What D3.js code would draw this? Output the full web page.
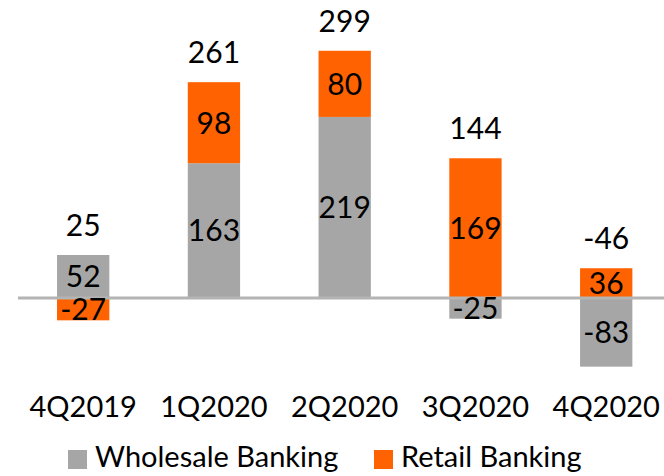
<!DOCTYPE html>
<html>
<head>
<meta charset="utf-8">
<script src="https://cdn.jsdelivr.net/npm/d3@7"></script>
<style>
    body { margin: 0; background: #fff; }
    svg { display: block; }
    text { font-family: "Lato", "Open Sans", sans-serif; fill: #000; }
</style>
</head>
<body>
<div id="chart"></div>
<script>
    // quarterly figures
    var categories = ["4Q2019", "1Q2020", "2Q2020", "3Q2020", "4Q2020"];
    var wholesaleBanking = [52, 163, 219, -25, -83];
    var retailBanking = [-27, 98, 80, 169, 36];
    var totals = [25, 261, 299, 144, -46];
    var seriesNames = ["Wholesale Banking", "Retail Banking"];
    var seriesColors = ["#a6a6a6", "#ff6200"];

    var width = 664, height = 476;
    var fontSize = 29;
    var valueFontSize = 30;

    var rows = categories.map(function(c, i) {
        return { cat: c, wholesale: wholesaleBanking[i], retail: retailBanking[i], total: totals[i] };
    });

    var svg = d3.select("#chart")
        .append("svg")
        .attr("width", width)
        .attr("height", height);

    var x = d3.scaleBand()
        .domain(categories)
        .range([17.8, 671.6])
        .paddingInner(0.6)
        .paddingOuter(0.3);

    var y = d3.scaleLinear()
        .domain([-100, 320])
        .range([380.7, 33.4]);

    var stacked = d3.stack()
        .keys(["wholesale", "retail"])
        .offset(d3.stackOffsetDiverging)(rows);

    var layers = svg.append("g")
        .selectAll("g")
        .data(stacked)
        .enter()
        .append("g")
        .attr("fill", function(d, i) { return seriesColors[i]; });

    layers.selectAll("rect")
        .data(function(d) { return d; })
        .enter()
        .append("rect")
        .attr("x", function(d) { return x(d.data.cat); })
        .attr("width", x.bandwidth())
        .attr("y", function(d) { return y(Math.max(d[0], d[1])); })
        .attr("height", function(d) { return Math.abs(y(d[0]) - y(d[1])); });

    // zero line sits over the bars
    svg.append("line")
        .attr("x1", 18)
        .attr("x2", width)
        .attr("y1", y(0))
        .attr("y2", y(0))
        .attr("stroke", "#b4b4b4")
        .attr("stroke-width", 3);

    // segment labels, centred in each piece
    var labels = svg.append("g");
    stacked.forEach(function(layer) {
        labels.append("g")
            .selectAll("text")
            .data(layer)
            .enter()
            .append("text")
            .attr("x", function(d) { return x(d.data.cat) + x.bandwidth() / 2; })
            .attr("y", function(d) { return (y(d[0]) + y(d[1])) / 2; })
            .attr("dy", "0.36em")
            .attr("text-anchor", "middle")
            .style("font-size", valueFontSize + "px")
            .text(function(d) { return d.data[layer.key]; });
    });

    // totals above each stack
    svg.append("g")
        .selectAll("text")
        .data(rows)
        .enter()
        .append("text")
        .attr("x", function(d) { return x(d.cat) + x.bandwidth() / 2; })
        .attr("y", function(d) { return y(Math.max(0, d.wholesale) + Math.max(0, d.retail)) - 30; })
        .attr("dy", "0.36em")
        .attr("text-anchor", "middle")
        .style("font-size", valueFontSize + "px")
        .text(function(d) { return d.total; });

    // category axis, no line or ticks
    var xAxis = svg.append("g")
        .attr("transform", "translate(0,417)")
        .call(d3.axisBottom(x).tickSize(0).tickPadding(0));
    xAxis.select(".domain").remove();
    xAxis.selectAll("text")
        .attr("dy", 0)
        .style("font-size", fontSize + "px")
        .style("font-family", "Lato, 'Open Sans', sans-serif")
        .attr("fill", "#000");

    // legend
    var legendX = [68, 374];
    var legend = svg.append("g")
        .selectAll("g")
        .data(seriesNames)
        .enter()
        .append("g")
        .attr("transform", function(d, i) { return "translate(" + legendX[i] + ",450)"; });
    legend.append("rect")
        .attr("width", 19)
        .attr("height", 19)
        .attr("fill", function(d, i) { return seriesColors[i]; });
    legend.append("text")
        .attr("x", 27)
        .attr("y", 17)
        .style("font-size", fontSize + "px")
        .text(function(d) { return d; });
</script>
</body>
</html>
